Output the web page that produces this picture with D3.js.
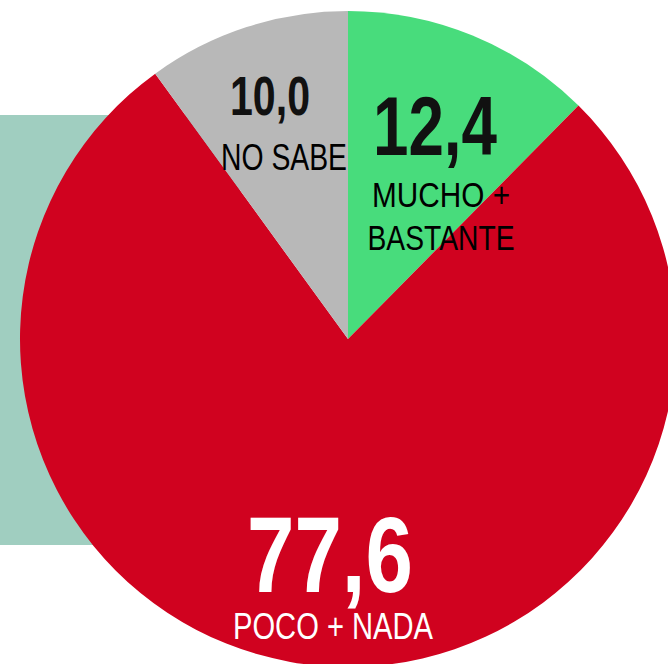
<!DOCTYPE html>
<html><head><meta charset="utf-8">
<script src="https://cdn.jsdelivr.net/npm/d3@7"></script>
<style>html,body{margin:0;padding:0;background:#fff;overflow:hidden}</style>
</head><body><svg id="c" width="668" height="664"></svg>
<script>
const categories = ["MUCHO + BASTANTE", "POCO + NADA", "NO SABE"];
const values = [12.4, 77.6, 10.0];
const valueLabels = ["12,4", "77,6", "10,0"];
const colors = ["#48dc7c", "#d0021f", "#b8b8b8"];

const svg = d3.select("#c");
const cx = 348, cy = 339, r = 328;
const font = "'Liberation Sans',Arial,sans-serif";

svg.append("rect").attr("x", 0).attr("y", 115).attr("width", 240).attr("height", 430).attr("fill", "#a0cec0");

const g = svg.append("g").attr("transform", `translate(${cx},${cy})`);
const pie = d3.pie().sort(null).value(d => d)(values);
const arc = d3.arc().innerRadius(0).outerRadius(r);
g.selectAll("path").data(pie).join("path").attr("d", arc).attr("fill", (d, i) => colors[i]);

function txt(x, y, s, size, weight, fill, len) {
  svg.append("text").attr("x", x).attr("y", y).attr("text-anchor", "middle")
    .attr("font-family", font).attr("font-size", size).attr("font-weight", weight)
    .attr("fill", fill).attr("textLength", len).attr("lengthAdjust", "spacingAndGlyphs").text(s);
}
// MUCHO + BASTANTE
txt(435, 155, valueLabels[0], 83, "bold", "#111", 124);
txt(441, 207, "MUCHO +", 35, "normal", "#000", 138);
txt(441, 250, "BASTANTE", 35, "normal", "#000", 147);
// NO SABE
txt(270, 115, valueLabels[2], 55, "bold", "#111", 80);
txt(284, 170, categories[2], 37, "normal", "#000", 126);
// POCO + NADA
txt(330, 592, valueLabels[1], 107, "bold", "#fff", 166);
txt(333, 639, categories[1], 36, "normal", "#fff", 200);
</script></body></html>
